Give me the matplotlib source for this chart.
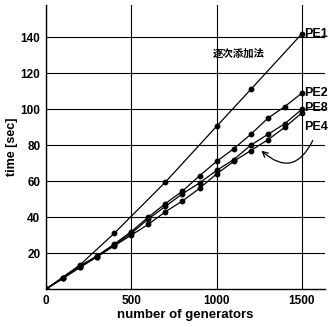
import matplotlib.pyplot as plt

x_pe1 = [0, 200, 400, 700, 1000, 1200, 1500]
y_pe1 = [0, 13.5, 31, 59.5, 90.5, 111, 142]

x_all = [0, 100, 200, 300, 400, 500, 600, 700, 800, 900, 1000, 1100, 1200, 1300, 1400, 1500]
y_pe2 = [0, 6, 13, 18.5, 25, 32, 40, 47.5, 54.5, 63, 71, 78, 86, 95, 101.5, 109]
y_pe8 = [0, 6, 12.5, 18, 24.5, 31, 39, 46, 53, 59, 66, 72, 80, 86, 92, 100]
y_pe4 = [0, 6, 12, 18, 24, 30, 36, 43, 49, 56, 64, 71, 77, 83, 90, 98]

plt.rcParams['font.family'] = ['Liberation Sans', 'Noto Sans CJK JP']
plt.rcParams['font.weight'] = 'bold'

fig = plt.figure(figsize=(3.33, 3.27), dpi=100)
ax = fig.add_axes([0.138, 0.116, 0.838, 0.869])

for xs, ys in [(x_pe1, y_pe1), (x_all, y_pe2), (x_all, y_pe8), (x_all, y_pe4)]:
    ax.plot(xs, ys, color='black', lw=0.9, marker='o', ms=3.2, zorder=3)

ax.set_xlim(0, 1635)
ax.set_ylim(0, 158)
ax.set_xticks([0, 500, 1000, 1500])
ax.set_yticks([20, 40, 60, 80, 100, 120, 140])
ax.grid(True, color='black', lw=0.8)
ax.tick_params(length=0, labelsize=8.5, pad=4)
for s in ['top', 'right']:
    ax.spines[s].set_visible(False)
ax.spines['left'].set_linewidth(1.0)
ax.spines['bottom'].set_linewidth(1.0)

ax.set_xlabel('number of generators', fontsize=9.5, fontweight='bold', labelpad=2)
ax.set_ylabel('time [sec]', fontsize=9, fontweight='bold', labelpad=2)

ax.text(1510, 142, 'PE1', fontsize=9, fontweight='bold', va='center')
ax.text(1510, 109, 'PE2', fontsize=9, fontweight='bold', va='center')
ax.text(1510, 100.5, 'PE8', fontsize=9, fontweight='bold', va='center')
ax.text(1510, 90, 'PE4', fontsize=9, fontweight='bold', va='center')
ax.text(980, 131, '逐次添加法', fontsize=7.5, fontweight='bold', va='center',
        family=['Noto Sans CJK JP'])

ax.annotate('', xy=(1250, 78), xytext=(1570, 84),
            arrowprops=dict(arrowstyle='->', color='black', lw=0.9,
                            connectionstyle='arc3,rad=-0.7'))

fig.savefig('out.png', dpi=100)
